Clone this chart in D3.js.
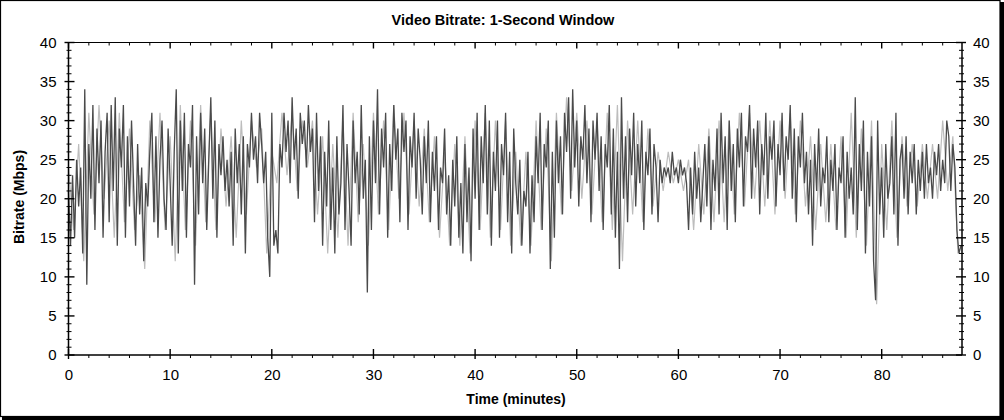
<!DOCTYPE html>
<html><head><meta charset="utf-8">
<script src="https://cdn.jsdelivr.net/npm/d3@7"></script>
<style>
html,body{margin:0;padding:0;background:#fff;}
svg{display:block;font-family:Arial,"Liberation Sans",sans-serif;}
</style></head>
<body>
<svg id="c" width="1004" height="420"></svg>
<script>
// ---- data ----
const title = "Video Bitrate: 1-Second Window";
const xLabel = "Time (minutes)";
const yLabel = "Bitrate (Mbps)";
const xTickLabels = [0, 10, 20, 30, 40, 50, 60, 70, 80];
const yTickLabels = [0, 5, 10, 15, 20, 25, 30, 35, 40];
const sampleStep = 0.2;   // minutes between samples of bitrate
const bitrate = [
21,14,23,15,25, 19,24,13,34,9, 27,20,32,16,29, 22,30,15,26,31, 17,32,21,33,14,
29,24,32,15,28, 19,30,22,14,27, 18,24,12,22,19, 26,31,17,28,15, 25,30,20,16,29,
22,14,26,34,13, 30,21,31,15,27, 24,32,9,28,18, 31,22,29,16,25, 33,20,30,15,27,
23,28,21,25,19, 26,14,29,22,27, 18,28,13,27,24, 31,25,28,22,31, 27,22,26,15,10,
31,14,16,13,27, 24,31,26,30,22, 33,25,29,20,31, 27,30,24,32,26, 29,17,31,21,28,
14,26,19,30,16, 24,13,28,18,22, 32,16,27,21,14, 30,22,26,18,32, 20,25,8,28,16,
30,22,34,18,29, 24,31,15,27,21, 32,25,29,17,31, 26,30,16,28,24, 31,20,29,25,18,
28,22,30,17,26, 21,28,16,24,22, 29,18,23,14,25, 19,28,15,22,13, 27,17,24,12,29,
20,31,16,28,22, 32,18,30,14,26, 21,30,15,27,23, 31,17,26,13,29, 22,18,25,14,21,
19,26,13,23,17, 28,22,31,16,27, 24,30,11,26,15, 30,22,28,18,31, 26,33,20,34,24,
30,19,28,25,32, 22,29,17,30,25, 31,21,28,16,27, 24,32,18,29,15, 26,11,33,20,28,
17,29,23,31,19, 27,22,30,16,26, 23,29,18,27,24, 17,25,22,24,23, 24,22,26,23,24,
22,25,23,24,22, 16,24,18,26,20, 24,17,22,27,19, 28,16,25,21,29, 18,31,22,28,16,
30,21,27,17,29, 24,31,19,28,26, 32,20,29,24,30, 18,27,23,31,20, 28,25,30,19,27,
23,31,21,28,25, 32,20,29,17,28, 24,31,22,26,18, 25,14,27,21,29, 19,24,22,28,17,
25,21,27,16,24, 22,28,15,26,20, 24,18,33,16,27, 21,30,13,26,19, 28,12,7,30,18,
24,15,27,20,22, 28,18,31,14,25, 27,20,28,18,26, 22,27,18,25,21, 26,20,27,22,24,
20,26,23,27,21, 25,22,30,28,21, 27,24,16,13,14
];
const envelopeStep = 0.5; // minutes between samples of the light envelope trace
const envelope = [
24,16, 27,12, 31,18, 32,20, 30,15, 31,17, 29,16, 23,11, 30,17, 31,16,
28,12, 32,16, 30,14, 32,17, 31,16, 29,19, 28,15, 30,18, 30,24, 29,13,
26,22, 31,23, 31,21, 30,24, 30,18, 28,13, 27,15, 30,14, 31,17, 27,14,
31,18, 30,16, 32,20, 31,18, 30,19, 29,17, 28,15, 26,14, 27,14, 28,13,
30,16, 31,15, 30,16, 30,14, 26,14, 26,14, 30,16, 29,12, 31,18, 33,21,
31,20, 30,18, 30,17, 31,16, 32,12, 30,18, 30,17, 29,19, 26,21, 26,22,
25,21, 25,16, 27,18, 29,17, 30,17, 30,18, 31,19, 31,20, 30,19, 30,18,
30,20, 31,18, 30,19, 28,16, 27,17, 27,16, 28,15, 31,15, 29,14, 30,6.5,
27,16, 30,15, 28,19, 27,19, 27,20, 27,20, 30,21, 28,13
];

// ---- layout ----
const svg = d3.select("#c");
const L = 68.5, R = 962, T = 42.5, B = 355;
const x = d3.scaleLinear().domain([0, 87.9]).range([L, R]);
const y = d3.scaleLinear().domain([0, 40]).range([B, T]);

// outer frame with shadow
svg.append("rect").attr("x",0.5).attr("y",0.5).attr("width",999.5).attr("height",416)
  .attr("fill","#fff").attr("stroke","#000").attr("stroke-width",1.2);
svg.append("rect").attr("x",1000).attr("y",2).attr("width",4).attr("height",418).attr("fill","#000");
svg.append("rect").attr("x",2).attr("y",416.5).attr("width",1002).attr("height",3.5).attr("fill","#000");

// series
const lineEnv = d3.line().x((d,i)=>x(i*envelopeStep)).y(d=>y(d));
const lineMain = d3.line().x((d,i)=>x(i*sampleStep)).y(d=>y(d));
svg.append("path").datum(envelope).attr("d",lineEnv)
  .attr("fill","none").attr("stroke","#bdbdbd").attr("stroke-width",1.2);
svg.append("path").datum(bitrate).attr("d",lineMain)
  .attr("fill","none").attr("stroke","#4a4a4a").attr("stroke-width",1.3);

// axes
const minorY = d3.range(0, 41, 1);
const minorX = d3.range(0, 88, 2);
const axisColor = "#000";
svg.append("line").attr("x1",L).attr("x2",R).attr("y1",B).attr("y2",B).attr("stroke",axisColor).attr("stroke-width",1.5);
svg.append("line").attr("x1",L).attr("x2",R).attr("y1",T).attr("y2",T).attr("stroke",axisColor).attr("stroke-width",1.2);
svg.append("line").attr("x1",L).attr("x2",L).attr("y1",T).attr("y2",B).attr("stroke",axisColor).attr("stroke-width",1.5);
svg.append("line").attr("x1",R).attr("x2",R).attr("y1",T).attr("y2",B).attr("stroke",axisColor).attr("stroke-width",1.5);

const gL = svg.append("g").attr("transform",`translate(${L},0)`)
  .call(d3.axisLeft(y).tickValues(yTickLabels).tickSize(0).tickPadding(12).tickFormat(d3.format("d")));
const gR = svg.append("g").attr("transform",`translate(${R},0)`)
  .call(d3.axisRight(y).tickValues(yTickLabels).tickSize(0).tickPadding(11).tickFormat(d3.format("d")));
const gB = svg.append("g").attr("transform",`translate(0,${B})`)
  .call(d3.axisBottom(x).tickValues(xTickLabels).tickSize(0).tickPadding(14).tickFormat(d3.format("d")));
[gL,gR,gB].forEach(g=>{
  g.select(".domain").remove();
  g.selectAll("text").attr("font-size",15).attr("fill","#000").attr("font-family","Arial, 'Liberation Sans', sans-serif");
});

// tick marks
const tk = svg.append("g").attr("stroke",axisColor);
minorY.forEach(v=>{
  const major = v % 5 === 0;
  tk.append("line").attr("x1",L-(major?4:2)).attr("x2",L+(major?6:3)).attr("y1",y(v)).attr("y2",y(v)).attr("stroke-width",major?1.4:1);
  tk.append("line").attr("x1",R-(major?6:3)).attr("x2",R+(major?4:2)).attr("y1",y(v)).attr("y2",y(v)).attr("stroke-width",major?1.4:1);
});
minorX.forEach(v=>{
  const major = v % 10 === 0;
  tk.append("line").attr("x1",x(v)).attr("x2",x(v)).attr("y1",B-(major?6:0)).attr("y2",B+(major?4:3)).attr("stroke-width",major?1.4:1);
  tk.append("line").attr("x1",x(v)).attr("x2",x(v)).attr("y1",T).attr("y2",T+(major?6:3)).attr("stroke-width",major?1.4:1);
});

// titles
svg.append("text").attr("x",503).attr("y",25).attr("text-anchor","middle")
  .attr("font-size",14.5).attr("font-weight","bold").text(title);
svg.append("text").attr("x",516).attr("y",404).attr("text-anchor","middle")
  .attr("font-size",14).attr("font-weight","bold").text(xLabel);
svg.append("text").attr("transform","translate(24,197) rotate(-90)").attr("text-anchor","middle")
  .attr("font-size",14).attr("font-weight","bold").text(yLabel);
</script>
</body></html>
